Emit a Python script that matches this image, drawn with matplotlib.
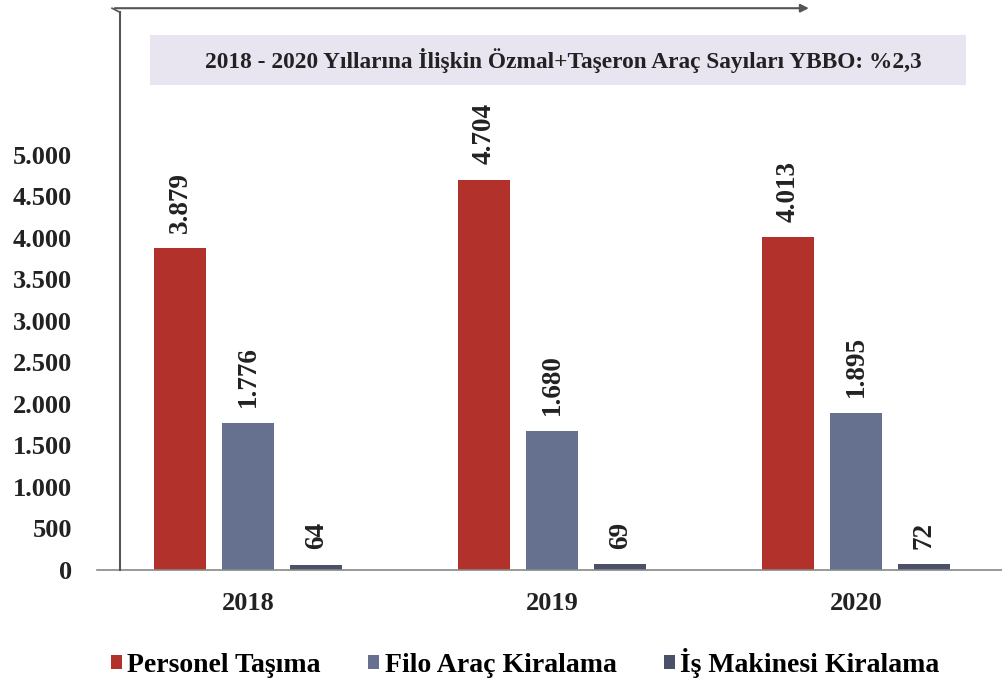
import numpy as np
import matplotlib
matplotlib.use("Agg")
import matplotlib.pyplot as plt
from matplotlib.lines import Line2D
from matplotlib.patches import Rectangle
from matplotlib.ticker import FuncFormatter

plt.rcParams['font.family'] = ['Liberation Serif', 'DejaVu Serif']
plt.rcParams['font.weight'] = 'bold'

# veriler
yillar = ['2018', '2019', '2020']
personel_tasima = [3879, 4704, 4013]
filo_arac = [1776, 1680, 1895]
is_makinesi = [64, 69, 72]
seri_adlari = ['Personel Taşıma', 'Filo Araç Kiralama', 'İş Makinesi Kiralama']
baslik = '2018 - 2020 Yıllarına İlişkin Özmal+Taşeron Araç Sayıları YBBO: %2,3'

renkler = ['#b3312b', '#66718f', '#4b5168']

fig = plt.figure(figsize=(10.02, 6.84), dpi=100)
ax = fig.add_axes([0.0968, 0.1667, 0.9032, 0.6067])

x = np.arange(len(yillar))
genislik = 0.171
adim = 0.224
seriler = [personel_tasima, filo_arac, is_makinesi]
cubuklar = []
for i, (vals, renk) in enumerate(zip(seriler, renkler)):
    b = ax.bar(x + (i - 1) * adim, vals, genislik, color=renk, label=seri_adlari[i])
    cubuklar.append(b)
    for xi, v in zip(x + (i - 1) * adim, vals):
        ax.annotate(f"{v:,}".replace(",", "."), (xi, v), xytext=(0, 11),
                    textcoords='offset points', rotation=90, ha='center', va='bottom',
                    fontsize=19.5, fontweight='bold', color='#222222', annotation_clip=False)

ax.set_xlim(-0.497, 2.48)
ax.set_ylim(0, 5000)
ax.set_yticks(np.arange(0, 5001, 500))
ax.yaxis.set_major_formatter(FuncFormatter(lambda v, p: f"{int(v):,}".replace(",", ".")))
ax.set_xticks(x)
ax.set_xticklabels(yillar)
ax.tick_params(axis='both', length=0, labelsize=19, colors='#222222')
ax.tick_params(axis='y', pad=18)
ax.tick_params(axis='x', pad=16)
for s in ['top', 'right', 'left']:
    ax.spines[s].set_visible(False)
ax.spines['bottom'].set_color('#888888')
ax.spines['bottom'].set_linewidth(1.2)

# dikey çizgi ve üstteki ok
fig.add_artist(Line2D([0.1198, 0.1198], [0.1667, 0.982], color='#555555', lw=1.5))
fig.add_artist(Line2D([0.1118, 0.1198], [0.988, 0.982], color='#555555', lw=1.2))
ax.annotate('', xy=(0.81, 0.988), xytext=(0.1118, 0.988), xycoords='figure fraction',
            arrowprops=dict(arrowstyle='-|>', color='#555555', lw=1.5, mutation_scale=12))

# başlık kutusu
fig.add_artist(Rectangle((0.1497, 0.8757), 0.814, 0.0731, transform=fig.transFigure,
                         facecolor='#e8e5f1', edgecolor='none'))
fig.text(0.562, 0.912, baslik, ha='center', va='center', fontsize=16.8,
         fontweight='bold', color='#222222')

fig.legend(handles=cubuklar, labels=seri_adlari, loc='center', bbox_to_anchor=(0.524, 0.031),
           ncol=3, frameon=False, fontsize=20, handlelength=0.4, handleheight=0.4,
           handletextpad=0.2, columnspacing=1.7)

fig.savefig('out.png', dpi=100)
